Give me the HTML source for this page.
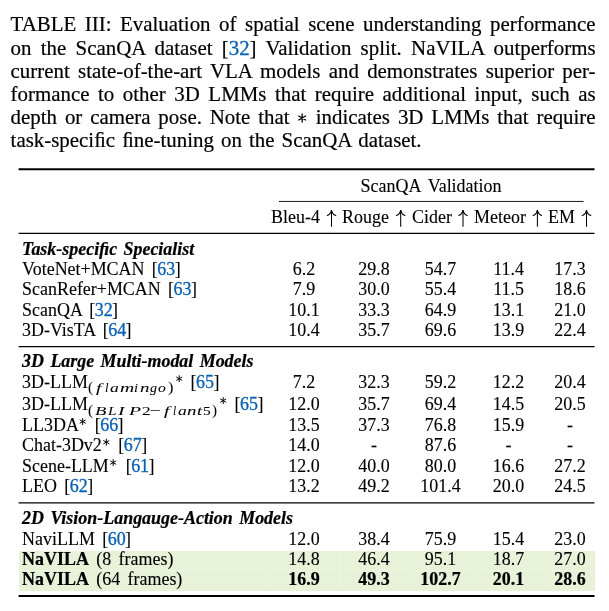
<!DOCTYPE html>
<html><head><meta charset="utf-8"><title>Table III</title>
<style>
html,body{margin:0;padding:0;background:#fff;}
body{width:609px;height:611px;position:relative;overflow:hidden;font-family:"Liberation Serif",serif;color:#000;-webkit-text-stroke:0.12px currentColor;will-change:transform;}
.cap{-webkit-text-stroke:0.2px currentColor;position:absolute;left:10.6px;width:585px;font-size:20.90px;line-height:24.00px;height:24.00px;white-space:nowrap;text-align:justify;text-align-last:justify;}
.cap.last{text-align:left;text-align-last:left;word-spacing:1.9px;}
.b{color:#0860b4;-webkit-text-stroke:0.3px currentColor;}
.bt{margin:0 -0.6px 0 -0.5px;}
.t{position:absolute;font-size:17.95px;line-height:20.00px;height:20.00px;white-space:nowrap;}
.l{left:22.10px;word-spacing:2.9px;}
.c{width:90px;text-align:center;}
.bold,b{font-weight:bold;-webkit-text-stroke:0.22px currentColor;}
b i{word-spacing:1.9px;}
.sub{font-size:13.3px;position:relative;top:4.6px;letter-spacing:2.1px;margin-left:1px;}
.sup{font-size:13px;position:relative;top:-3.2px;margin-left:1px;}
.g{position:absolute;-webkit-text-stroke:0.05px currentColor;line-height:20px;height:20px;transform-origin:0 0;white-space:nowrap;}
.g.it{font-style:italic;}
.cast{vertical-align:baseline;position:relative;top:-0.7px;left:-0.4px;overflow:visible;}
.ar{display:inline-block;width:10px;height:1px;}
.hl{position:absolute;left:18.8px;width:576px;background:#e7f2d9;}
svg.rules{position:absolute;left:0;top:0;}
</style></head><body>

<div class="hl" style="top:550.6px;height:40.3px"></div>
<div class="cap" style="top:12.00px">TABLE III: Evaluation of spatial scene understanding performance</div>
<div class="cap" style="top:36.00px">on the ScanQA dataset [<span class="b">32</span>] Validation split. NaVILA outperforms</div>
<div class="cap" style="top:59.00px">current state-of-the-art VLA models and demonstrates superior per-</div>
<div class="cap" style="top:82.00px">formance to other 3D LMMs that require additional input, such as</div>
<div class="cap" style="top:105.00px">depth or camera pose. Note that <svg class="cast" width="10.4" height="10" viewBox="-5.2 -5 10.4 10"><path d="M-0.00 -4.00 L0.00 4.00 M-3.46 -2.00 L3.46 2.00 M3.46 -2.00 L-3.46 2.00" stroke="#000" stroke-width="1.30" stroke-linecap="round" fill="none"/></svg> indicates 3D LMMs that require</div>
<div class="cap last" style="top:128.00px">task-speciﬁc ﬁne-tuning on the ScanQA dataset.</div>
<svg class="rules" width="609" height="611" viewBox="0 0 609 611">
<line x1="18.60" x2="594.50" y1="169.30" y2="169.30" stroke="#000" stroke-width="2.10"/>
<line x1="279.00" x2="583.60" y1="201.45" y2="201.45" stroke="#000" stroke-width="0.90"/>
<line x1="18.60" x2="594.50" y1="233.40" y2="233.40" stroke="#000" stroke-width="1.30"/>
<line x1="18.60" x2="594.50" y1="346.60" y2="346.60" stroke="#000" stroke-width="1.30"/>
<line x1="18.60" x2="594.50" y1="502.90" y2="502.90" stroke="#000" stroke-width="1.30"/>
<line x1="18.60" x2="594.50" y1="596.00" y2="596.00" stroke="#000" stroke-width="2.10"/>
<line x1="18.80" x2="594.80" y1="570.60" y2="570.60" stroke="#eef6e4" stroke-width="0.60"/>
<line x1="271.8" x2="271.8" y1="550.6" y2="590.9" stroke="#eef6e4" stroke-width="0.6"/>
<line x1="339.6" x2="339.6" y1="550.6" y2="590.9" stroke="#eef6e4" stroke-width="0.6"/>
<line x1="409.2" x2="409.2" y1="550.6" y2="590.9" stroke="#eef6e4" stroke-width="0.6"/>
<line x1="472.1" x2="472.1" y1="550.6" y2="590.9" stroke="#eef6e4" stroke-width="0.6"/>
<line x1="545.8" x2="545.8" y1="550.6" y2="590.9" stroke="#eef6e4" stroke-width="0.6"/>
<path d="M179.20 375.65 L179.20 381.75 M176.56 377.18 L181.84 380.22 M181.84 377.18 L176.56 380.22" stroke="#000" stroke-width="1.00" stroke-linecap="round" fill="none"/>
<path d="M223.20 397.55 L223.20 403.65 M220.56 399.08 L225.84 402.12 M225.84 399.08 L220.56 402.12" stroke="#000" stroke-width="1.00" stroke-linecap="round" fill="none"/>
<path d="M82.70 418.55 L82.70 424.65 M80.06 420.08 L85.34 423.12 M85.34 420.08 L80.06 423.12" stroke="#000" stroke-width="1.00" stroke-linecap="round" fill="none"/>
<path d="M106.30 439.15 L106.30 445.25 M103.66 440.68 L108.94 443.72 M108.94 440.68 L103.66 443.72" stroke="#000" stroke-width="1.00" stroke-linecap="round" fill="none"/>
<path d="M113.20 459.55 L113.20 465.65 M110.56 461.08 L115.84 464.12 M115.84 461.08 L110.56 464.12" stroke="#000" stroke-width="1.00" stroke-linecap="round" fill="none"/>
<path d="M331.50 210.20 V226.80" stroke="#000" stroke-width="1.05" fill="none"/><path d="M327.20 215.40 C329.10 214.80 331.00 212.70 331.50 210.10 C332.00 212.70 333.90 214.80 335.80 215.40" stroke="#000" stroke-width="1.1" fill="none" stroke-linecap="round" stroke-linejoin="miter"/>
<path d="M400.70 210.20 V226.80" stroke="#000" stroke-width="1.05" fill="none"/><path d="M396.40 215.40 C398.30 214.80 400.20 212.70 400.70 210.10 C401.20 212.70 403.10 214.80 405.00 215.40" stroke="#000" stroke-width="1.1" fill="none" stroke-linecap="round" stroke-linejoin="miter"/>
<path d="M463.00 210.20 V226.80" stroke="#000" stroke-width="1.05" fill="none"/><path d="M458.70 215.40 C460.60 214.80 462.50 212.70 463.00 210.10 C463.50 212.70 465.40 214.80 467.30 215.40" stroke="#000" stroke-width="1.1" fill="none" stroke-linecap="round" stroke-linejoin="miter"/>
<path d="M537.40 210.20 V226.80" stroke="#000" stroke-width="1.05" fill="none"/><path d="M533.10 215.40 C535.00 214.80 536.90 212.70 537.40 210.10 C537.90 212.70 539.80 214.80 541.70 215.40" stroke="#000" stroke-width="1.1" fill="none" stroke-linecap="round" stroke-linejoin="miter"/>
<path d="M586.50 210.20 V226.80" stroke="#000" stroke-width="1.05" fill="none"/><path d="M582.20 215.40 C584.10 214.80 586.00 212.70 586.50 210.10 C587.00 212.70 588.90 214.80 590.80 215.40" stroke="#000" stroke-width="1.1" fill="none" stroke-linecap="round" stroke-linejoin="miter"/>
</svg>
<span class="g" style="left:88.41px;top:377.00px;font-size:14.40px;transform:scaleX(1.062)">(</span>
<span class="g it" style="left:95.90px;top:378.00px;font-size:12.30px;transform:scaleX(1.600)">f</span>
<span class="g it" style="left:105.43px;top:378.00px;font-size:12.30px;transform:scaleX(1.041)">l</span>
<span class="g it" style="left:110.17px;top:378.00px;font-size:12.30px;transform:scaleX(1.427)">a</span>
<span class="g it" style="left:119.89px;top:378.00px;font-size:12.30px;transform:scaleX(1.600)">m</span>
<span class="g it" style="left:134.30px;top:378.00px;font-size:12.30px;transform:scaleX(1.186)">i</span>
<span class="g it" style="left:139.54px;top:378.00px;font-size:12.30px;transform:scaleX(1.538)">n</span>
<span class="g it" style="left:150.10px;top:378.00px;font-size:12.30px;transform:scaleX(1.142)">g</span>
<span class="g it" style="left:158.13px;top:378.00px;font-size:12.30px;transform:scaleX(1.275)">o</span>
<span class="g" style="left:167.66px;top:377.00px;font-size:14.40px;transform:scaleX(1.135)">)</span>
<span class="g" style="left:88.41px;top:400.00px;font-size:14.40px;transform:scaleX(1.062)">(</span>
<span class="g it" style="left:95.11px;top:401.00px;font-size:12.30px;transform:scaleX(1.514)">B</span>
<span class="g it" style="left:108.20px;top:401.00px;font-size:12.30px;transform:scaleX(1.251)">L</span>
<span class="g it" style="left:118.47px;top:401.00px;font-size:12.30px;transform:scaleX(1.600)">I</span>
<span class="g it" style="left:128.84px;top:401.00px;font-size:12.30px;transform:scaleX(1.600)">P</span>
<span class="g" style="left:141.72px;top:401.00px;font-size:12.30px;transform:scaleX(1.402)">2</span>
<span class="g" style="left:149.99px;top:401.00px;font-size:12.30px;transform:scaleX(1.600)">−</span>
<span class="g it" style="left:163.55px;top:401.00px;font-size:12.30px;transform:scaleX(1.600)">f</span>
<span class="g it" style="left:172.91px;top:401.00px;font-size:12.30px;transform:scaleX(0.921)">l</span>
<span class="g it" style="left:177.57px;top:401.00px;font-size:12.30px;transform:scaleX(1.427)">a</span>
<span class="g it" style="left:187.14px;top:401.00px;font-size:12.30px;transform:scaleX(1.538)">n</span>
<span class="g it" style="left:196.78px;top:401.00px;font-size:12.30px;transform:scaleX(1.484)">t</span>
<span class="g" style="left:203.21px;top:401.00px;font-size:12.30px;transform:scaleX(1.254)">5</span>
<span class="g" style="left:212.10px;top:400.00px;font-size:14.40px;transform:scaleX(1.054)">)</span>
<div class="t c" style="top:176.00px;left:281.00px;width:300px;word-spacing:3.2px">ScanQA Validation</div>
<div class="t c" style="top:207.00px;left:259.00px;word-spacing:2.5px">Bleu-4 <span class="ar"></span></div>
<div class="t c" style="top:207.00px;left:329.00px;word-spacing:2.5px">Rouge <span class="ar"></span></div>
<div class="t c" style="top:207.00px;left:395.50px;word-spacing:2.5px">Cider <span class="ar"></span></div>
<div class="t c" style="top:207.00px;left:463.50px;word-spacing:2.5px">Meteor <span class="ar"></span></div>
<div class="t c" style="top:207.00px;left:525.00px;word-spacing:2.5px">EM <span class="ar"></span></div>
<div class="t l" style="top:239.00px"><b><i>Task-speciﬁc Specialist</i></b></div>
<div class="t l" style="top:259.00px">VoteNet+MCAN [<span class="b bt">63</span>]</div>
<div class="t c " style="top:259.00px;left:259.00px">6.2</div>
<div class="t c " style="top:259.00px;left:329.00px">29.8</div>
<div class="t c " style="top:259.00px;left:395.50px">54.7</div>
<div class="t c " style="top:259.00px;left:463.50px">11.4</div>
<div class="t c " style="top:259.00px;left:525.00px">17.3</div>
<div class="t l" style="top:279.00px">ScanRefer+MCAN [<span class="b bt">63</span>]</div>
<div class="t c " style="top:279.00px;left:259.00px">7.9</div>
<div class="t c " style="top:279.00px;left:329.00px">30.0</div>
<div class="t c " style="top:279.00px;left:395.50px">55.4</div>
<div class="t c " style="top:279.00px;left:463.50px">11.5</div>
<div class="t c " style="top:279.00px;left:525.00px">18.6</div>
<div class="t l" style="top:300.00px">ScanQA [<span class="b bt">32</span>]</div>
<div class="t c " style="top:300.00px;left:259.00px">10.1</div>
<div class="t c " style="top:300.00px;left:329.00px">33.3</div>
<div class="t c " style="top:300.00px;left:395.50px">64.9</div>
<div class="t c " style="top:300.00px;left:463.50px">13.1</div>
<div class="t c " style="top:300.00px;left:525.00px">21.0</div>
<div class="t l" style="top:320.00px">3D-VisTA [<span class="b bt">64</span>]</div>
<div class="t c " style="top:320.00px;left:259.00px">10.4</div>
<div class="t c " style="top:320.00px;left:329.00px">35.7</div>
<div class="t c " style="top:320.00px;left:395.50px">69.6</div>
<div class="t c " style="top:320.00px;left:463.50px">13.9</div>
<div class="t c " style="top:320.00px;left:525.00px">22.4</div>
<div class="t l" style="top:351.00px"><b><i>3D Large Multi-modal Models</i></b></div>
<div class="t l" style="top:372.00px;left:22.10px">3D-LLM</div>
<div class="t l" style="top:372.00px;left:190.60px">[<span class="b bt">65</span>]</div>
<div class="t c " style="top:372.00px;left:259.00px">7.2</div>
<div class="t c " style="top:372.00px;left:329.00px">32.3</div>
<div class="t c " style="top:372.00px;left:395.50px">59.2</div>
<div class="t c " style="top:372.00px;left:463.50px">12.2</div>
<div class="t c " style="top:372.00px;left:525.00px">20.4</div>
<div class="t l" style="top:394.00px;left:22.10px">3D-LLM</div>
<div class="t l" style="top:394.00px;left:234.55px">[<span class="b bt">65</span>]</div>
<div class="t c " style="top:394.00px;left:259.00px">12.0</div>
<div class="t c " style="top:394.00px;left:329.00px">35.7</div>
<div class="t c " style="top:394.00px;left:395.50px">69.4</div>
<div class="t c " style="top:394.00px;left:463.50px">14.5</div>
<div class="t c " style="top:394.00px;left:525.00px">20.5</div>
<div class="t l" style="top:415.00px;left:22.10px">LL3DA</div>
<div class="t l" style="top:415.00px;left:94.75px">[<span class="b bt">66</span>]</div>
<div class="t c " style="top:415.00px;left:259.00px">13.5</div>
<div class="t c " style="top:415.00px;left:329.00px">37.3</div>
<div class="t c " style="top:415.00px;left:395.50px">76.8</div>
<div class="t c " style="top:415.00px;left:463.50px">15.9</div>
<div class="t c " style="top:415.00px;left:525.00px">-</div>
<div class="t l" style="top:435.00px;left:22.10px">Chat-3Dv2</div>
<div class="t l" style="top:435.00px;left:118.35px">[<span class="b bt">67</span>]</div>
<div class="t c " style="top:435.00px;left:259.00px">14.0</div>
<div class="t c " style="top:435.00px;left:329.00px">-</div>
<div class="t c " style="top:435.00px;left:395.50px">87.6</div>
<div class="t c " style="top:435.00px;left:463.50px">-</div>
<div class="t c " style="top:435.00px;left:525.00px">-</div>
<div class="t l" style="top:456.00px;left:22.10px">Scene-LLM</div>
<div class="t l" style="top:456.00px;left:125.65px">[<span class="b bt">61</span>]</div>
<div class="t c " style="top:456.00px;left:259.00px">12.0</div>
<div class="t c " style="top:456.00px;left:329.00px">40.0</div>
<div class="t c " style="top:456.00px;left:395.50px">80.0</div>
<div class="t c " style="top:456.00px;left:463.50px">16.6</div>
<div class="t c " style="top:456.00px;left:525.00px">27.2</div>
<div class="t l" style="top:476.00px">LEO [<span class="b bt">62</span>]</div>
<div class="t c " style="top:476.00px;left:259.00px">13.2</div>
<div class="t c " style="top:476.00px;left:329.00px">49.2</div>
<div class="t c " style="top:476.00px;left:395.50px">101.4</div>
<div class="t c " style="top:476.00px;left:463.50px">20.0</div>
<div class="t c " style="top:476.00px;left:525.00px">24.5</div>
<div class="t l" style="top:508.00px"><b><i>2D Vision-Langauge-Action Models</i></b></div>
<div class="t l" style="top:529.00px">NaviLLM [<span class="b bt">60</span>]</div>
<div class="t c " style="top:529.00px;left:259.00px">12.0</div>
<div class="t c " style="top:529.00px;left:329.00px">38.4</div>
<div class="t c " style="top:529.00px;left:395.50px">75.9</div>
<div class="t c " style="top:529.00px;left:463.50px">15.4</div>
<div class="t c " style="top:529.00px;left:525.00px">23.0</div>
<div class="t l" style="top:549.00px"><b>NaVILA</b> (8 frames)</div>
<div class="t c " style="top:549.00px;left:259.00px">14.8</div>
<div class="t c " style="top:549.00px;left:329.00px">46.4</div>
<div class="t c " style="top:549.00px;left:395.50px">95.1</div>
<div class="t c " style="top:549.00px;left:463.50px">18.7</div>
<div class="t c " style="top:549.00px;left:525.00px">27.0</div>
<div class="t l" style="top:569.00px"><b>NaVILA</b> (64 frames)</div>
<div class="t c bold" style="top:569.00px;left:259.00px">16.9</div>
<div class="t c bold" style="top:569.00px;left:329.00px">49.3</div>
<div class="t c bold" style="top:569.00px;left:395.50px">102.7</div>
<div class="t c bold" style="top:569.00px;left:463.50px">20.1</div>
<div class="t c bold" style="top:569.00px;left:525.00px">28.6</div>
</body></html>
